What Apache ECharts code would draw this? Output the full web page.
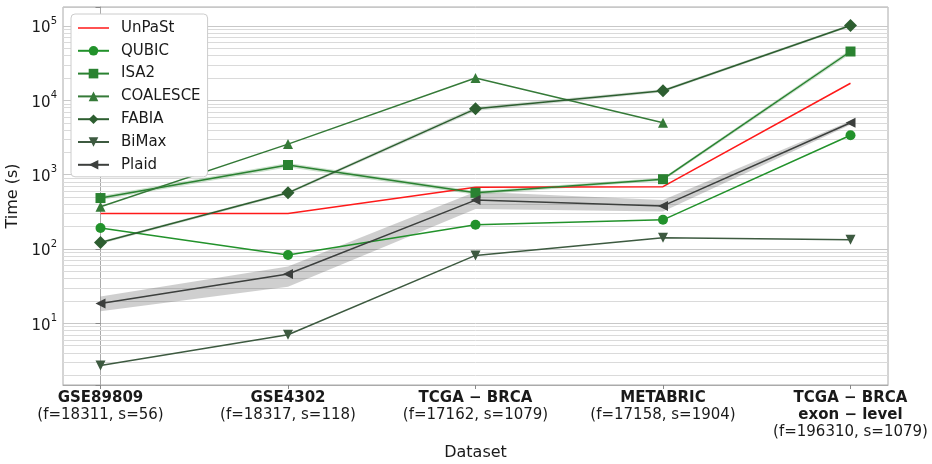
<!DOCTYPE html>
<html><head><meta charset="utf-8">
<script src="https://cdn.jsdelivr.net/npm/echarts@6/dist/echarts.min.js"></script>
<style>html,body{margin:0;padding:0;background:#fff}#c{width:932px;height:464px}</style>
</head><body><div id="c"></div>
<script>
const datasetNames = ['GSE89809', 'GSE4302', 'TCGA − BRCA', 'METABRIC', 'TCGA − BRCA\nexon − level'];
const datasetDims = ['(f=18311, s=56)', '(f=18317, s=118)', '(f=17162, s=1079)', '(f=17158, s=1904)', '(f=196310, s=1079)'];
const seriesNames = ['UnPaSt', 'QUBIC', 'ISA2', 'COALESCE', 'FABIA', 'BiMax', 'Plaid'];
const unpast = [300, 300, 680, 690, 17000];
const qubic = [192, 83, 212, 247, 3400];
const isa2 = [485, 1350, 570, 870, 45500];
const coalesce = [370, 2580, 20000, 5000, null];
const fabia = [122, 570, 7700, 13500, 102000];
const bimax = [2.7, 7.0, 82, 142, 133];
const plaid = [18.5, 46, 455, 380, 5000];
const plaidLow = [14.5, 31, 345, 320, 4700];
const plaidHigh = [23, 58, 590, 455, 5300];
const isa2Low = [455, 1260, 535, 830, 42500];
const isa2High = [515, 1440, 605, 910, 48500];
const fabiaLow = [117, 545, 7200, 12900, 98000];
const fabiaHigh = [127, 595, 8200, 14100, 106000];
const xTicks = [0, 1, 2, 3, 4];
const minorMultipliers = [2, 3, 4, 5, 6, 7, 8, 9];
const minorDecades = [1, 10, 100, 1000, 10000];

const FONT = 'DejaVu Sans';
const TXT = '#1a1a1a';
const colors = {
  UnPaSt: '#ff1a1a', QUBIC: '#22922b', ISA2: '#2a8231', COALESCE: '#357a38',
  FABIA: '#2d5e30', BiMax: '#3d5a40', Plaid: '#3c3f3d'
};
const pts = arr => arr.map((v, i) => [i, v]);
const minorValues = [];
minorDecades.forEach(d => minorMultipliers.forEach(m => minorValues.push(m * d)));

function band(name, low, high, color, opacity) {
  return {
    type: 'custom', name: name + '_band', data: low.map((v, i) => [i, v, high[i]]),
    silent: true, z: 7, animation: false, clip: true,
    renderItem: (params, api) => {
      if (params.dataIndex !== 0) return;
      const upper = high.map((h, i) => api.coord([i, h]));
      const lower = low.map((l, i) => api.coord([i, l])).reverse();
      return {
        type: 'polygon',
        shape: { points: upper.concat(lower) },
        style: { fill: color, opacity: opacity }
      };
    }
  };
}

function line(name, data, symbol, size, rotate) {
  return {
    type: 'line', name: name, data: pts(data), symbol: symbol, symbolSize: size, symbolRotate: rotate || 0,
    showSymbol: symbol !== 'none',
    lineStyle: { color: colors[name], width: 1.5 }, itemStyle: { color: colors[name], opacity: 1, borderWidth: 0 },
    connectNulls: false, z: 10, animation: false, emphasis: { disabled: true }
  };
}

const series = [
  { type: 'line', name: '_minor', data: [], z: 0, silent: true, animation: false,
    markLine: { silent: true, symbol: 'none', animation: false, label: { show: false }, z: 1,
      lineStyle: { color: '#dadada', width: 1, type: 'solid' },
      data: minorValues.map(v => ({ yAxis: v })) } },
  band('Plaid', plaidLow, plaidHigh, '#404040', 0.25),
  band('ISA2', isa2Low, isa2High, colors.ISA2, 0.25),
  band('FABIA', fabiaLow, fabiaHigh, colors.FABIA, 0.2),
  line('UnPaSt', unpast, 'none', 0),
  line('QUBIC', qubic, 'circle', 10),
  line('ISA2', isa2, 'rect', 10),
  line('COALESCE', coalesce, 'triangle', 10),
  line('FABIA', fabia, 'diamond', 13),
  line('BiMax', bimax, 'triangle', 10, 180),
  line('Plaid', plaid, 'triangle', 10, 90)
];

const lineOnlyIcon = 'path://M0,0 h0.01 v12 h-0.01 Z M0,5.25 h31 v1.5 h-31 Z';

const chart = echarts.init(document.getElementById('c'), null, { renderer: 'canvas' });
chart.setOption({
  animation: false,
  textStyle: { fontFamily: FONT },
  grid: { left: 63, right: 44, top: 7, bottom: 79, containLabel: false, outerBoundsMode: 'none',
    show: true, borderColor: '#aaaaaa', borderWidth: 1, backgroundColor: 'transparent' },
  legend: {
    data: seriesNames.map(n => n === 'UnPaSt' ? { name: n, icon: lineOnlyIcon } : n),
    orient: 'vertical', left: 71, top: 14, z: 20,
    padding: [5, 7, 3, 6], itemGap: 4.8, itemWidth: 31, itemHeight: 12,
    backgroundColor: '#ffffff', borderColor: '#cccccc', borderWidth: 1, borderRadius: 4,
    textStyle: { fontFamily: FONT, fontSize: 15, color: TXT, lineHeight: 18, padding: [0, 0, 0, 7] },
    selectedMode: false
  },
  xAxis: {
    type: 'value', min: -0.2, max: 4.2, splitNumber: 4,
    splitLine: { show: false },
    axisLine: { show: true, onZero: false, lineStyle: { color: '#aaaaaa' } },
    axisTick: { show: true, length: 4, customValues: xTicks, lineStyle: { color: '#888' } },
    axisLabel: {
      customValues: xTicks, margin: 5, color: TXT,
      formatter: v => {
        const i = Math.round(v);
        if (Math.abs(v - i) > 1e-6 || !datasetNames[i]) return '';
        return datasetNames[i].split('\n').map(s => '{t|' + s + '}').join('\n') + '\n{s|' + datasetDims[i] + '}';
      },
      rich: {
        t: { fontFamily: FONT, fontWeight: 'bold', fontSize: 15, lineHeight: 17, color: TXT },
        s: { fontFamily: FONT, fontSize: 15, lineHeight: 17, color: TXT }
      }
    },
    name: 'Dataset', nameLocation: 'middle', nameGap: 57,
    nameTextStyle: { fontFamily: FONT, fontSize: 16, color: TXT }
  },
  yAxis: {
    type: 'log', logBase: 10, min: 1.477, max: 180700,
    axisLine: { show: true, lineStyle: { color: '#aaaaaa' } },
    axisTick: { show: true, length: 5, lineStyle: { color: '#888' } },
    splitLine: { show: true, lineStyle: { color: '#c8c8c8', width: 1 } },
    axisLabel: {
      margin: 6, color: TXT,
      formatter: v => {
        const e = Math.log10(v);
        const r = Math.round(e);
        if (Math.abs(e - r) > 1e-6) return '';
        return '{b|10}{s|' + r + '}';
      },
      rich: {
        b: { fontFamily: FONT, fontSize: 15, lineHeight: 20, color: TXT, verticalAlign: 'bottom' },
        s: { fontFamily: FONT, fontSize: 10, lineHeight: 12, color: TXT, verticalAlign: 'top' }
      }
    },
    name: 'Time (s)', nameLocation: 'middle', nameGap: 28,
    nameTextStyle: { fontFamily: FONT, fontSize: 16, color: TXT }
  },
  series: series
});
</script>
</body></html>
